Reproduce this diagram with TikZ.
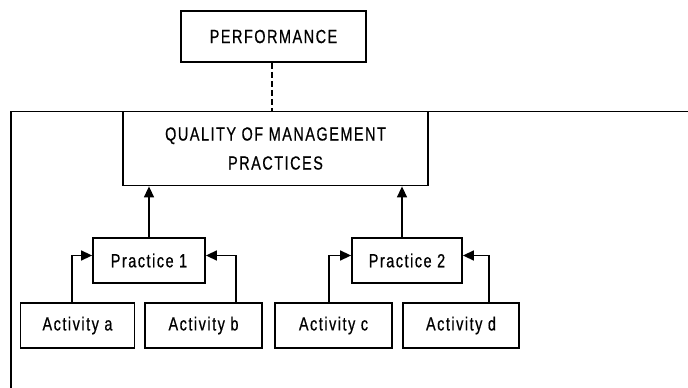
\documentclass[tikz,border=0pt]{standalone}
\usepackage{fontspec}
\setmainfont{Liberation Sans}[FakeStretch=0.76,LetterSpace=8,FakeBold=0.6]
\usetikzlibrary{arrows.meta,calc}
\begin{document}
\begin{tikzpicture}[x=1pt,y=-1pt,
  box/.style={draw,line width=1.8pt,rectangle,inner sep=0pt,align=center,
    font=\fontsize{19}{29}\selectfont},
  arr/.style={line width=1.5pt,-{Triangle[length=11pt,width=10pt]}},
  conn/.style={line width=1.5pt}]
\useasboundingbox (0,0) rectangle (688,388);
\node[box,minimum width=185pt,minimum height=51pt] (perf) at (273.5,36.5) {PERFORMANCE};
\node[box,minimum width=305pt,minimum height=74pt] (qmp) at (275.5,148.5) {QUALITY OF MANAGEMENT\\PRACTICES};
\node[box,minimum width=112pt,minimum height=45pt] (p1) at (149,260.5) {Practice 1};
\node[box,minimum width=110pt,minimum height=45pt] (p2) at (407,260.5) {Practice 2};
\node[box,minimum width=114pt,minimum height=45pt] (aa) at (77.5,325.5) {Activity a};
\node[box,minimum width=117pt,minimum height=45pt] (ab) at (203.5,325.5) {Activity b};
\node[box,minimum width=117pt,minimum height=45pt] (ac) at (333.5,325.5) {Activity c};
\node[box,minimum width=116pt,minimum height=45pt] (ad) at (461,325.5) {\raisebox{3pt}{Activity d}};
\coordinate (fl) at (11,388);
\coordinate (fr) at (688,111.5);
\draw[conn] (fr) -- (fr -| fl) -- (fl);
\draw[conn,dashed,dash pattern=on 6pt off 3pt] ([xshift=-1.5pt]perf.south) -- ([xshift=-1.5pt]perf.south |- qmp.north);
\draw[arr] (p1.north) -- (p1.north |- qmp.south);
\draw[arr] ([xshift=-5pt]p2.north) -- ([xshift=-5pt]p2.north |- qmp.south);
\draw[arr] ([xshift=-5.5pt]aa.north) |- ([yshift=5pt]p1.west);
\draw[arr] ([xshift=32.5pt]ab.north) |- ([yshift=5pt]p1.east);
\draw[arr] ([xshift=-4.5pt]ac.north) |- ([yshift=5pt]p2.west);
\draw[arr] ([xshift=28pt]ad.north) |- ([yshift=5pt]p2.east);
\end{tikzpicture}
\end{document}
